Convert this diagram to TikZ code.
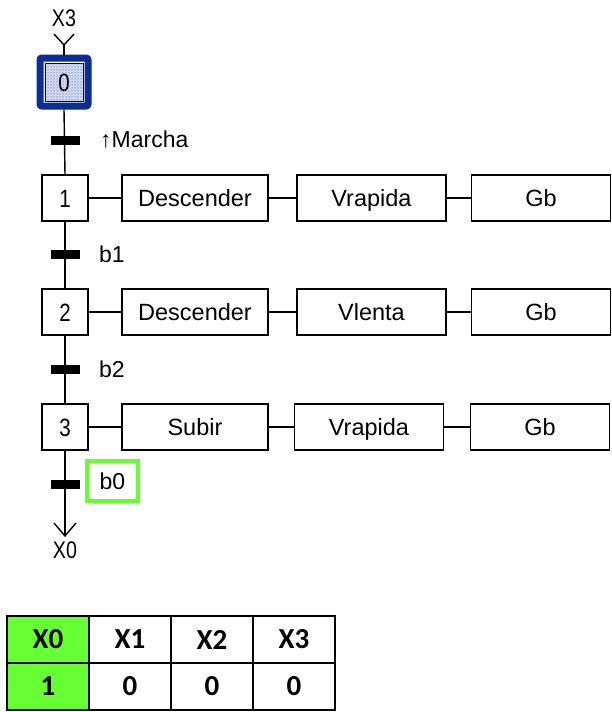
\documentclass[tikz,border=0pt]{standalone}
\usepackage{fontspec}
\setmainfont{Liberation Sans}
\newfontfamily\narrowfont{Liberation Sans}[FakeStretch=0.82]
\newfontfamily\tabfont{Carlito}
\usetikzlibrary{patterns}
\definecolor{stepblue}{RGB}{10,45,150}
\definecolor{hatchblue}{RGB}{205,215,238}
\definecolor{activegreen}{RGB}{102,255,51}
\tikzset{
  wire/.style={line width=1.4pt},
  stepbox/.style={draw, line width=1.3pt, minimum width=46pt, minimum height=46pt,
    inner sep=0pt, text height=18pt, text depth=0pt, font=\narrowfont\fontsize{25}{27}\selectfont},
  actbox/.style={draw, line width=1.3pt, minimum height=46pt, inner sep=0pt,
    text height=17pt, text depth=0pt, font=\fontsize{23.5}{26}\selectfont},
  tbar/.style={fill=black, minimum width=29pt, minimum height=9pt, inner sep=0pt},
  tlabel/.style={anchor=west, inner sep=0pt, font=\fontsize{23}{26}\selectfont},
  linklabel/.style={inner sep=0pt, font=\narrowfont\fontsize{24}{26}\selectfont},
  cell/.style={draw, line width=1.6pt, minimum width=82pt, minimum height=47pt,
    inner sep=0pt, font=\tabfont\bfseries\fontsize{29}{31}\selectfont},
}
\begin{document}
\begin{tikzpicture}[x=1pt, y=-1pt]
\useasboundingbox (0,0) rectangle (612,712);

% initial step 0
\node[draw=stepblue, line width=7pt, rounded corners=2pt, minimum width=48pt, minimum height=48pt] (s0) at (64,82) {};
\node[draw, line width=0.8pt, fill=hatchblue, minimum width=38pt, minimum height=38pt, inner sep=0pt] (s0in) at (64,82) {};
\fill[pattern=dots, pattern color=blue!45!gray] (s0in.south west) rectangle (s0in.north east);
\node[inner sep=0pt, text height=18pt, text depth=0pt, font=\narrowfont\fontsize{25}{27}\selectfont] (s0num) at (s0in) {0};

% incoming link from X3
\node[linklabel] (x3) at (64,18) {X3};
\coordinate (x3tip) at (64,45);
\draw[wire] (x3tip) -- (s0.north);
\draw[wire] (54,34) -- (x3tip) -- (74,34);

% steps
\node[stepbox] (s1) at (65,198) {1};
\node[stepbox] (s2) at (65,312) {2};
\node[stepbox] (s3) at (65,427) {3};

% transitions
\node[tbar] (t0) at (65,140) {};
\node[tbar] (t1) at (65,254) {};
\node[tbar] (t2) at (65,369) {};
\node[tbar] (t3) at (65,484) {};
\node[tlabel] (r0) at (100,140) {↑Marcha};
\node[tlabel] (r1) at (99,254) {b1};
\node[tlabel] (r2) at (99,369) {b2};
\node[draw=activegreen, line width=4pt, minimum width=51pt, minimum height=40pt, inner sep=0pt,
  font=\fontsize{23}{26}\selectfont] (b0) at (112.5,481) {b0};

% sequence line
\draw[wire] (s0.south) -- (s1.north);
\draw[wire] (s1.south) -- (s2.north);
\draw[wire] (s2.south) -- (s3.north);
\coordinate (x0tip) at (65,536);
\draw[wire] (s3.south) -- (x0tip);
\draw[wire] (54,523) -- (x0tip) -- (76,523);
\node[linklabel] (x0) at (65,550) {X0};

% actions
\node[actbox, minimum width=146pt] (a11) at (195,198) {Descender};
\node[actbox, minimum width=149pt] (a12) at (371.5,198) {Vrapida};
\node[actbox, minimum width=139pt] (a13) at (541,198) {Gb};
\node[actbox, minimum width=146pt] (a21) at (195,312) {Descender};
\node[actbox, minimum width=149pt] (a22) at (371.5,312) {Vlenta};
\node[actbox, minimum width=139pt] (a23) at (541,312) {Gb};
\node[actbox, minimum width=146pt] (a31) at (195,427) {Subir};
\node[actbox, minimum width=149pt] (a32) at (369,427) {Vrapida};
\node[actbox, minimum width=139pt] (a33) at (540,427) {Gb};
\foreach \s in {1,2,3}{
  \draw[wire] (s\s.east) -- (a\s1.west);
  \draw[wire] (a\s1.east) -- (a\s2.west);
  \draw[wire] (a\s2.east) -- (a\s3.west);
}

% state table
\node[cell, fill=activegreen] (h0) at (48,639.5) {X0};
\node[cell] (h1) at (130,639.5) {X1};
\node[cell] (h2) at (212,639.5) {X2};
\node[cell] (h3) at (294,639.5) {X3};
\node[cell, fill=activegreen] (v0) at (48,686.5) {1};
\node[cell] (v1) at (130,686.5) {0};
\node[cell] (v2) at (212,686.5) {0};
\node[cell] (v3) at (294,686.5) {0};
\end{tikzpicture}
\end{document}
